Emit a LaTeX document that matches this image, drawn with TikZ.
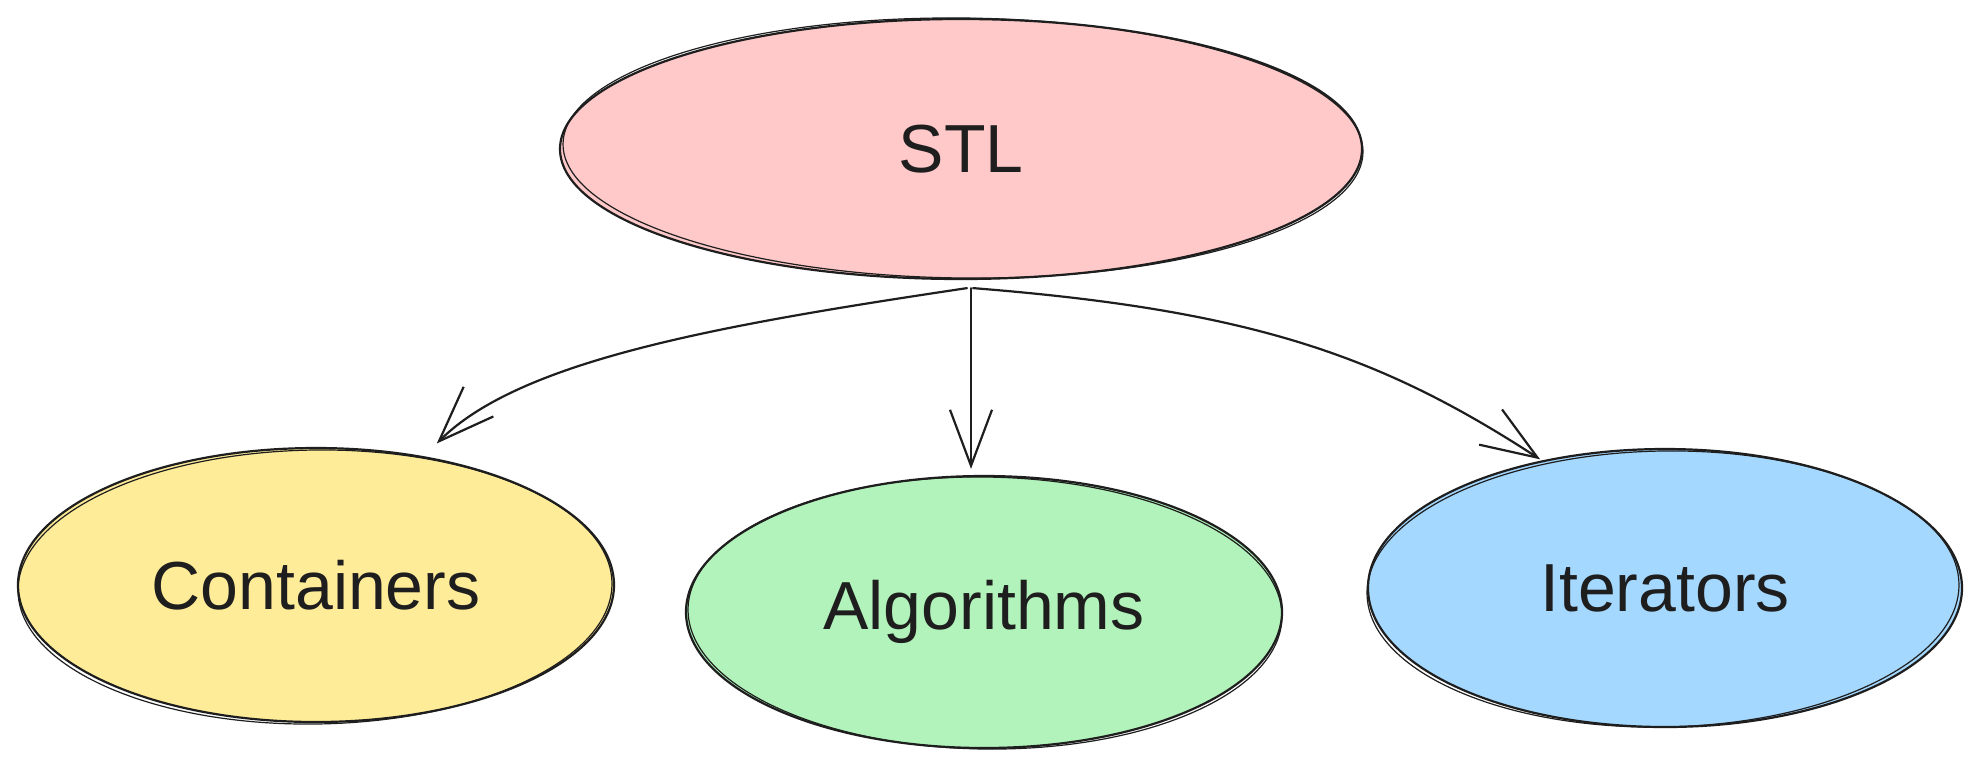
\documentclass[tikz,border=0pt]{standalone}
\usepackage{fontspec}
\setmainfont{Liberation Sans}
\usetikzlibrary{arrows.meta,shapes.geometric}
\definecolor{ink}{HTML}{1E1E1E}
\definecolor{fpink}{HTML}{FFC9C9}
\definecolor{fyellow}{HTML}{FFEC99}
\definecolor{fgreen}{HTML}{B2F2BB}
\definecolor{fblue}{HTML}{A5D8FF}
\tikzset{
  blob/.style={ellipse, draw=ink, line width=1.1pt, inner sep=0pt,
    text=ink, font=\fontsize{34}{40}\selectfont},
  sketch/.style={draw=ink, line width=0.6pt},
  arr/.style={draw=ink, line width=1.1pt, line cap=round,
    -{Straight Barb[length=28pt,width=21pt,line width=1.1pt]}},
}
\begin{document}
\begin{tikzpicture}[x=0.5pt,y=-0.5pt]
\useasboundingbox[fill=white] (0,0) rectangle (1982,768);
% nodes
\node[blob, fill=fpink, minimum width=401pt, minimum height=130pt] (stl) at (961,149) {STL};
\node[blob, fill=fyellow, minimum width=298pt, minimum height=137pt] (cont) at (316,585) {Containers};
\node[blob, fill=fgreen, minimum width=298pt, minimum height=136pt] (algo) at (984,612) {Algorithms};
\node[blob, fill=fblue, minimum width=297pt, minimum height=139pt] (iter) at (1665,588) {Iterators};
% sketchy second strokes
\draw[sketch] ([shift={(2,-1)}]stl.center) ellipse [x radius=400, y radius=130, rotate=-0.6];
\draw[sketch] ([shift={(-1,2)}]cont.center) ellipse [x radius=297, y radius=137, rotate=0.8];
\draw[sketch] ([shift={(1,1)}]algo.center) ellipse [x radius=297, y radius=136, rotate=-0.8];
\draw[sketch] ([shift={(-2,1)}]iter.center) ellipse [x radius=296, y radius=138, rotate=1];
% connectors
\draw[arr, shorten >=9pt] ([shift={(3pt,-4pt)}]stl.south) .. controls (720,325) and (520,360) .. (cont.50);
\draw[arr, shorten >=3pt] ([shift={(5pt,-4pt)}]stl.south) -- ([xshift=-6.5pt]algo.north);
\draw[arr, shorten >=1pt] ([shift={(6pt,-4pt)}]stl.south) .. controls (1250,310) and (1380,355) .. (iter.134);
\end{tikzpicture}
\end{document}
